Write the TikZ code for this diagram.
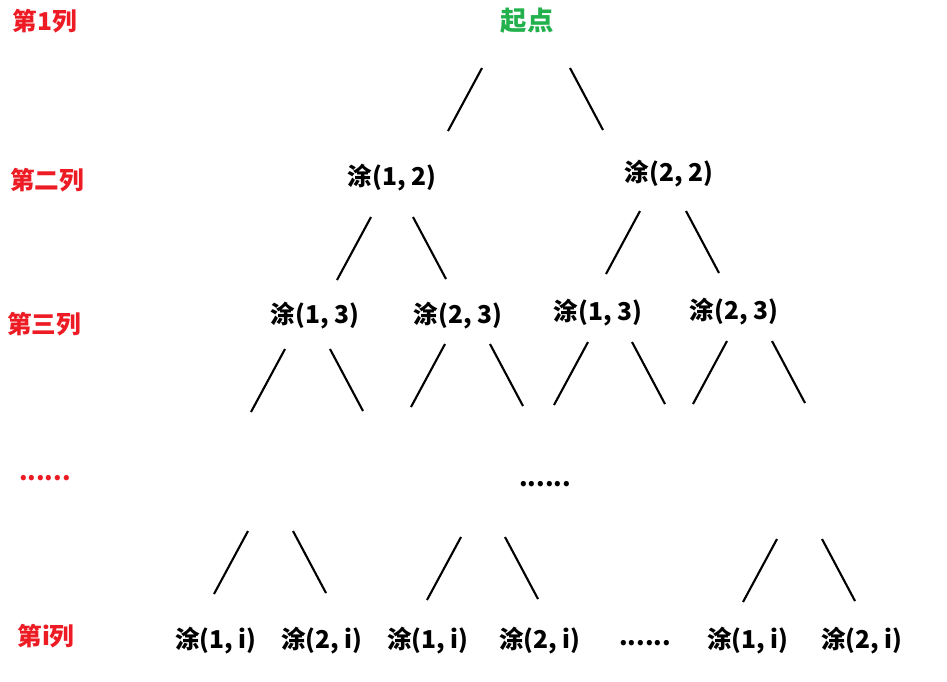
\documentclass[tikz,border=0pt]{standalone}
\usepackage{fontspec}
\setmainfont{Noto Sans CJK SC}
\usepackage{tikz}
\usetikzlibrary{positioning}
\definecolor{paintred}{RGB}{237,28,36}
\definecolor{paintgreen}{RGB}{34,177,76}

\begin{document}
\begin{tikzpicture}[x=0.02cm, y=-0.02cm, line width=1.2pt]

	\tikzset{
		paint/.style={
				font=\bfseries\fontsize{14}{16}\selectfont, inner sep=1pt
			},
		level/.style={
				paint, text=paintred
			},
		start/.style={
				paint, text=paintgreen, font=\bfseries\fontsize{15}{17}\selectfont
			},
	}
	\useasboundingbox (0,0) rectangle (947,681);

	% column labels
	\node[level](l1) at (45,21){第1列};
	\node[level](l2) at (47,180){第二列};
	\node[level](l3) at (44,324){第三列};
	\node[level](ld) at (45,478){......};
	\node[level](li) at (46,636){第i列};

	% tree
	\node[start](root) at (527,21){起点};
	\node[paint](a1) at (392,178){涂(1, 2)};
	\node[paint](a2) at (669,174){涂(2, 2)};
	\node[paint](b1) at (315,316){涂(1, 3)};
	\node[paint](b2) at (458,316){涂(2, 3)};
	\node[paint](b3) at (598,313){涂(1, 3)};
	\node[paint](b4) at (734,312){涂(2, 3)};
	\node[paint](mid) at (545,484){......};
	\node[paint](c1) at (216,641){涂(1, i)};
	\node[paint](c2) at (322,641){涂(2, i)};
	\node[paint](c3) at (428,641){涂(1, i)};
	\node[paint](c4) at (540,641){涂(2, i)};
	\node[paint](cd) at (645,643){......};
	\node[paint](c5) at (748,641){涂(1, i)};
	\node[paint](c6) at (862,641){涂(2, i)};

	% branches: name/x/y/gap
	\foreach \n/\x/\y/\g in {r/482/68/88, p/371/217/42, q/640/211/46,
			s/285/349/45, t/445/344/45, u/588/342/44, v/727/341/45,
			w/248/531/45, y/461/537/44, z/777/539/45}{
			\coordinate (\n1) at (\x,\y);
			\coordinate (\n2) at (\x-34,\y+63);
			\coordinate (\n3) at (\x+\g,\y);
			\coordinate (\n4) at (\x+\g+33,\y+62);
			\draw (\n1) -- (\n2);
			\draw (\n3) -- (\n4);
		}

\end{tikzpicture}
\end{document}
